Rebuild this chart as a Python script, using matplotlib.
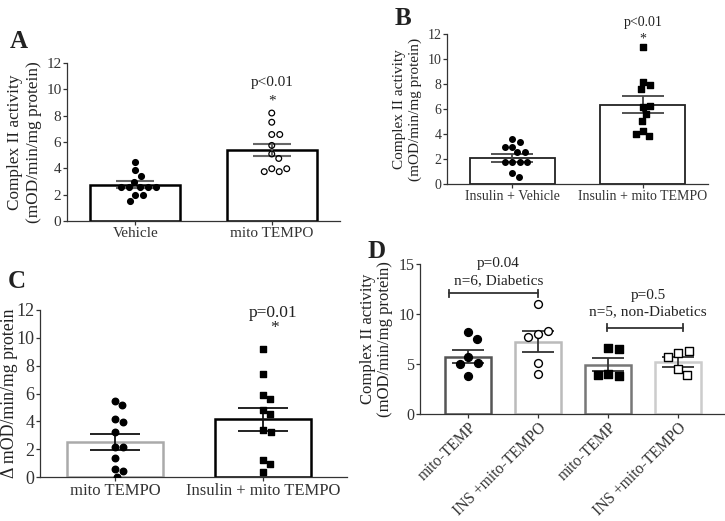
"""
Complex II activity panels A-D: bars with SEM and individual points.
"""

import matplotlib

matplotlib.use("Agg")
import matplotlib.pyplot as plt
import numpy as np

plt.rcParams["font.family"] = ["Liberation Serif", "DejaVu Serif"]
plt.rcParams["text.color"] = "#222222"
plt.rcParams["axes.labelcolor"] = "#222222"
plt.rcParams["xtick.color"] = "#333333"
plt.rcParams["ytick.color"] = "#333333"

# ---- panel A ----
a_labels = ["Vehicle", "mito TEMPO"]
a_mean = [2.75, 5.38]
a_sem = [0.28, 0.46]
a_vehicle = [4.5, 3.85, 3.4, 3.0, 2.55, 2.55, 2.55, 2.55, 2.55, 2.0, 2.0, 1.55]
a_mito = [8.2, 7.5, 6.57, 6.57, 5.74, 5.09, 4.75, 3.97, 3.75, 3.75, 3.97]

# ---- panel B ----
b_labels = ["Insulin + Vehicle", "Insulin + mito TEMPO"]
b_mean = [2.09, 6.35]
b_sem = [0.31, 0.67]
b_vehicle = [3.6, 3.4, 3.0, 3.0, 2.55, 2.55, 1.76, 1.76, 1.76, 1.76, 0.87, 0.53]
b_mito = [10.98, 8.18, 7.92, 7.6, 6.13, 6.24, 5.57, 5.04, 4.27, 3.87, 3.97]

# ---- panel C ----
c_labels = ["mito TEMPO", "Insulin + mito TEMPO"]
c_mean = [2.51, 4.14]
c_sem = [0.58, 0.84]
c_mito = [5.45, 5.14, 4.16, 3.92, 3.2, 2.15, 2.15, 1.36, 0.57, 0.4, 0.0]
c_insulin = [9.23, 7.4, 5.9, 5.6, 4.8, 4.5, 3.35, 3.2, 1.25, 0.96, 0.36]

# ---- panel D ----
d_labels = ["mito-TEMP", "INS +mito-TEMPO", "mito-TEMP", "INS +mito-TEMPO"]
d_mean = [5.75, 7.25, 4.93, 5.2]
d_sem = [0.67, 1.05, 0.67, 0.47]
d_groups = [
    [8.19, 7.52, 5.68, 5.15, 4.98, 3.84],
    [11.03, 7.99, 8.32, 7.75, 5.08, 4.01],
    [6.59, 6.55, 4.05, 3.78, 3.95],
    [6.15, 6.32, 5.71, 4.46, 3.89],
]

W, H = 725, 521


def axes_at(fig, left, top, right, bottom):
    return fig.add_axes([left / W, 1 - bottom / H, (right - left) / W, (bottom - top) / H])


def swarm(ax, xc, values, diam_px):
    """Offsets so that markers of diam_px pixels do not overlap."""
    pts = ax.transData.transform(np.column_stack([np.full(len(values), xc), values]))
    placed = []
    xs = []
    for px, py in pts:
        best = None
        for step in np.arange(0, 200, 0.5):
            for cand in (px + step, px - step):
                if all((cand - qx) ** 2 + (py - qy) ** 2 >= diam_px ** 2 for qx, qy in placed):
                    best = cand
                    break
            if best is not None:
                break
        placed.append((best, py))
        xs.append(best)
    inv = ax.transData.inverted()
    return [inv.transform((x, 0))[0] for x in xs]


def style(ax, ylim, yticks, tick_size):
    ax.set_ylim(*ylim)
    ax.set_yticks(yticks)
    for side in ("top", "right"):
        ax.spines[side].set_visible(False)
    for side in ("left", "bottom"):
        ax.spines[side].set_color("#333333")
        ax.spines[side].set_linewidth(0.9)
    ax.tick_params(length=3, width=0.9, labelsize=tick_size, pad=1)


def main() -> None:
    fig = plt.figure(figsize=(W / 100, H / 100), dpi=100)

    # panel A
    ax = axes_at(fig, 67, 63, 340, 221)
    ax.set_xlim(-0.5, 1.5)
    style(ax, (0, 12), range(0, 13, 2), 11)
    ax.bar([0, 1], a_mean, width=0.66, facecolor="white", edgecolor="black", linewidth=1.8, zorder=1)
    ax.errorbar([0, 1], a_mean, yerr=a_sem, fmt="none", ecolor="#666666", elinewidth=1.5,
                capsize=14, capthick=1.5, zorder=2)
    ax.scatter(swarm(ax, 0, a_vehicle, 8), a_vehicle, s=17, color="black", zorder=3)
    ax.scatter(swarm(ax, 1, a_mito, 8), a_mito, s=17, facecolor="none",
               edgecolor="black", linewidth=0.9, zorder=3)
    ax.set_xticks([0, 1], a_labels, fontsize=11)
    ax.set_ylabel("Complex II activity\n(mOD/min/mg protein)", fontsize=12.4, linespacing=1.3)
    ax.yaxis.set_label_coords(-0.09, 0.5)
    ax.text(1, 10.5, "p<0.01", ha="center", va="center", fontsize=11)
    ax.text(1, 9.1, "*", ha="center", va="center", fontsize=11)
    fig.text(10 / W, 1 - 48 / H, "A", fontsize=18, fontweight="bold")

    # panel B
    ax = axes_at(fig, 447, 34, 708, 184)
    ax.set_xlim(-0.5, 1.5)
    style(ax, (0, 12), range(0, 13, 2), 10)
    ax.bar([0, 1], b_mean, width=0.65, facecolor="white", edgecolor="#222222", linewidth=1.3, zorder=1)
    ax.errorbar([0, 1], b_mean, yerr=b_sem, fmt="none", ecolor="#444444", elinewidth=1.3,
                capsize=15, capthick=1.3, zorder=2)
    ax.scatter(swarm(ax, 0, b_vehicle, 7.5), b_vehicle, s=16, color="black", zorder=3)
    ax.scatter(swarm(ax, 1, b_mito, 7.5), b_mito, s=16, marker="s", color="black", zorder=3)
    ax.set_xticks([0, 1], b_labels, fontsize=10)
    ax.set_ylabel("Complex II activity\n(mOD/min/mg protein)", fontsize=11, linespacing=1.2)
    ax.yaxis.set_label_coords(-0.096, 0.5)
    ax.text(1, 12.95, "p<0.01", ha="center", va="center", fontsize=10, clip_on=False)
    ax.text(1, 11.6, "*", ha="center", va="center", fontsize=10)
    fig.text(395 / W, 1 - 25 / H, "B", fontsize=18, fontweight="bold")

    # panel C
    ax = axes_at(fig, 40, 310, 347, 477)
    ax.set_xlim(-0.51, 1.57)
    style(ax, (0, 12), range(0, 13, 2), 13)
    ax.bar([0, 1], c_mean, width=0.65, facecolor="white", edgecolor=["#aaaaaa", "black"],
           linewidth=1.8, zorder=1)
    ax.errorbar([0, 1], c_mean, yerr=c_sem, fmt="none", ecolor="#111111", elinewidth=1.3,
                capsize=18, capthick=1.3, zorder=2)
    ax.scatter(swarm(ax, 0, c_mito, 8), c_mito, s=22, color="black", zorder=3)
    ax.scatter(swarm(ax, 1, c_insulin, 8), c_insulin, s=22, marker="s", color="black", zorder=3)
    ax.set_xticks([0, 1], c_labels, fontsize=12)
    ax.set_ylabel("\u0394 mOD/min/mg protein", fontsize=12.8)
    ax.yaxis.set_label_coords(-0.072, 0.5)
    ax.text(1.07, 11.76, "p=0.01", ha="center", va="center", fontsize=12.5)
    ax.text(1.08, 10.7, "*", ha="center", va="center", fontsize=12.5)
    fig.text(8 / W, 1 - 288 / H, "C", fontsize=18, fontweight="bold")

    # panel D
    ax = axes_at(fig, 420, 264, 725, 414)
    ax.set_xlim(-0.69, 3.67)
    style(ax, (0, 15), [0, 5, 10, 15], 11.5)
    edges = ["#555555", "#bbbbbb", "#777777", "#cccccc"]
    pos = np.arange(4)
    ax.bar(pos, d_mean, width=0.66, facecolor="white", edgecolor=edges, linewidth=1.8, zorder=1)
    ax.errorbar(pos, d_mean, yerr=d_sem, fmt="none", ecolor="#333333", elinewidth=1.3,
                capsize=11.5, capthick=1.3, zorder=2)
    styles = [("o", "black"), ("o", "white"), ("s", "black"), ("s", "white")]
    for i, (vals, (mk, fc)) in enumerate(zip(d_groups, styles)):
        ax.scatter(swarm(ax, i, vals, 10.5), vals, s=32, marker=mk, facecolor=fc,
                   edgecolor="black", linewidth=1.0, zorder=3)
    ax.set_xticks(pos, d_labels, fontsize=11.2, rotation=45, ha="right", rotation_mode="anchor")
    ax.set_ylabel("Complex II activity\n(mOD/min/mg protein)", fontsize=12, linespacing=1.1)
    ax.yaxis.set_label_coords(-0.0885, 0.5)
    brackets = [
        (-0.27, 1.0, 12.1, 13.3, 15.05, "n=6, Diabetics", "p=0.04", 0.43),
        (1.99, 3.07, 8.63, 10.23, 11.9, "n=5, non-Diabetics", "p=0.5", 2.57),
    ]
    for x1, x2, yb, y1, y2, t1, t2, xt in brackets:
        ax.plot([x1, x2], [yb, yb], color="#333333", lw=1.3, clip_on=False)
        for xe in (x1, x2):
            ax.plot([xe, xe], [yb - 0.35, yb + 0.35], color="#333333", lw=1.3, clip_on=False)
        ax.text(xt, y1, t1, ha="center", va="center", fontsize=11)
        ax.text(xt, y2, t2, ha="center", va="center", fontsize=11, clip_on=False)
    fig.text(367 / W, 1 - 258 / H, "D", fontsize=18, fontweight="bold")

    fig.savefig("out.png", dpi=100)


if __name__ == "__main__":
    main()
